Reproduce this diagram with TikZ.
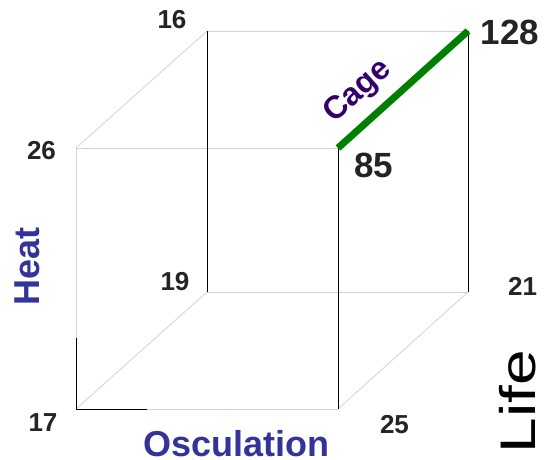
\documentclass[tikz,border=0pt]{standalone}
\usepackage{fontspec}
\setmainfont{Liberation Sans}
\usepackage{tikz}
\usetikzlibrary{positioning}
\definecolor{axisblue}{RGB}{51,51,153}
\definecolor{cageviolet}{RGB}{51,0,110}
\definecolor{cagegreen}{RGB}{0,128,0}
\definecolor{numink}{RGB}{34,36,38}
\definecolor{edgegray}{RGB}{210,210,210}
\tikzset{
  faint/.style={draw=edgegray,line width=0.8pt},
  darkedge/.style={draw=black,line width=0.9pt},
  cageline/.style={draw=cagegreen,line width=7pt},
  num/.style={font=\fontsize{26}{28}\selectfont\bfseries,text=numink,inner sep=0pt},
  bignum/.style={font=\fontsize{35}{38}\selectfont\bfseries,text=numink,inner sep=0pt},
  axislab/.style={font=\fontsize{36}{40}\selectfont\bfseries,text=axisblue,inner sep=0pt},
  lifelab/.style={font=\fontsize{50}{54}\selectfont,text=black,inner sep=0pt}
}

\begin{document}
\begin{tikzpicture}[x=1pt,y=-1pt]
  \useasboundingbox (0,0) rectangle (544,460);
  % corners of the cube
  \coordinate (ftl) at (76,148);
  \coordinate (ftr) at (338,148);
  \coordinate (fbl) at (76,409);
  \coordinate (fbr) at (338,409);
  \coordinate (btl) at (207,31);
  \coordinate (btr) at (468,31);
  \coordinate (bbl) at (207,292);
  \coordinate (bbr) at (468,292);
  \coordinate (fml) at (76,338);
  \coordinate (fbm) at (147,409);
  % faint edges
  \draw[faint] (ftl)--(ftr);
  \draw[faint] (ftl)--(fml);
  \draw[faint] (fbm)--(fbr);
  \draw[faint] (btl)--(btr);
  \draw[faint] (bbl)--(bbr);
  \draw[faint] (ftl)--(btl);
  \draw[faint] (fbl)--(bbl);
  \draw[faint] (fbr)--(bbr);
  % dark edges
  \draw[darkedge] (fml)--(fbl)--(fbm);
  \draw[darkedge] (ftr)--(fbr);
  \draw[darkedge] (btl)--(bbl);
  \draw[darkedge] (btr)--(bbr);
  \draw[cageline] (ftr)--(btr);
  % corner values
  \node[num] (v16) at (172,19.5) {16};
  \node[num] (v26) at (41.5,151) {26};
  \node[bignum] (v128) at (510,32.5) {128};
  \node[bignum] (v85) at (373.5,165.5) {85};
  \node[num] (v19) at (175,282) {19};
  \node[num] (v21) at (522.5,286) {21};
  \node[num] (v17) at (43,423) {17};
  \node[num] (v25) at (394.5,425) {25};
  % axis labels
  \node[axislab,anchor=base] (osc) at (236.5,456) {Osculation};
  \node[axislab,anchor=base,rotate=90] (heat) at (39,266.5) {Heat};
  \node[lifelab,anchor=base,rotate=90] (life) at (535,401.5) {\scalebox{1.28}[1]{Life}};
  \node[font=\fontsize{32}{34}\selectfont\bfseries,text=cageviolet,inner sep=0pt,
    rotate=42] (cage) at (358,92) {Cage};
\end{tikzpicture}
\end{document}
